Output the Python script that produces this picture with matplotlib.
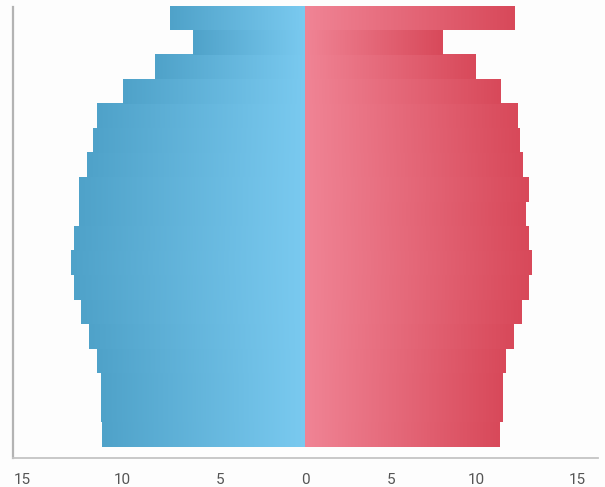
import numpy as np
import matplotlib
matplotlib.use("Agg")
import matplotlib.pyplot as plt
from matplotlib.colors import LinearSegmentedColormap

plt.rcParams['font.family'] = ['Roboto', 'DejaVu Sans']

# Age groups, bottom to top
age_groups = ['0-4', '5-9', '10-14', '15-19', '20-24', '25-29', '30-34', '35-39',
              '40-44', '45-49', '50-54', '55-59', '60-64', '65-69', '70-74',
              '75-79', '80-84', '85+']
male = [11.9, 12.0, 12.0, 12.2, 12.7, 13.15, 13.55, 13.75, 13.55, 13.25,
        13.25, 12.8, 12.45, 12.2, 10.7, 8.8, 6.6, 7.95]
female = [11.4, 11.55, 11.55, 11.75, 12.2, 12.7, 13.1, 13.25, 13.1, 12.9,
          13.1, 12.75, 12.55, 12.45, 11.45, 10.0, 8.05, 12.25]

tick_positions = [-16.6, -10.73, -5.03, 0, 5, 10, 15.9]
tick_labels = ['15', '10', '5', '0', '5', '10', '15']

bg = '#fdfdfd'
fig = plt.figure(figsize=(6.05, 4.87), dpi=100, facecolor=bg)
ax = fig.add_axes([13.3 / 605, (487 - 457.7) / 487, (598 - 13.3) / 605, (457.7 - 6) / 487])
ax.set_facecolor(bg)

y = np.arange(len(age_groups))
blue_cmap = LinearSegmentedColormap.from_list('b', ['#4fa2c9', '#7acaf0'])
red_cmap = LinearSegmentedColormap.from_list('r', ['#f08495', '#d8495a'])
grad = np.linspace(0, 1, 256).reshape(1, -1)

bars_m = ax.barh(y, [-v for v in male], height=1.0, color='none', linewidth=0)
bars_f = ax.barh(y, female, height=1.0, color='none', linewidth=0)

for patch in bars_m.patches:
    x0, y0 = patch.get_x(), patch.get_y()
    w, h = patch.get_width(), patch.get_height()
    ax.imshow(grad, cmap=blue_cmap, aspect='auto', interpolation='bilinear',
              extent=(x0 + w, x0, y0, y0 + h) if w < 0 else (x0, x0 + w, y0, y0 + h),
              zorder=2)
for patch in bars_f.patches:
    x0, y0 = patch.get_x(), patch.get_y()
    w, h = patch.get_width(), patch.get_height()
    ax.imshow(grad, cmap=red_cmap, aspect='auto', interpolation='bilinear',
              extent=(x0, x0 + w, y0, y0 + h), zorder=2)

ax.set_xlim(-17.12, 17.14)
ax.set_ylim(-0.95, len(age_groups) - 0.5)

ax.set_xticks(tick_positions)
ax.set_xticklabels(tick_labels, fontsize=11, color='#555555')
ax.tick_params(axis='x', length=0, pad=11)
ax.set_yticks([])

for s in ['top', 'right']:
    ax.spines[s].set_visible(False)
ax.spines['left'].set_color('#b3b3b3')
ax.spines['left'].set_linewidth(1.6)
ax.spines['left'].set_bounds(-0.95, len(age_groups) - 0.55)
ax.spines['bottom'].set_color('#c4c4c4')
ax.spines['bottom'].set_linewidth(1.3)

fig.savefig('out.png', dpi=100, facecolor=bg)
